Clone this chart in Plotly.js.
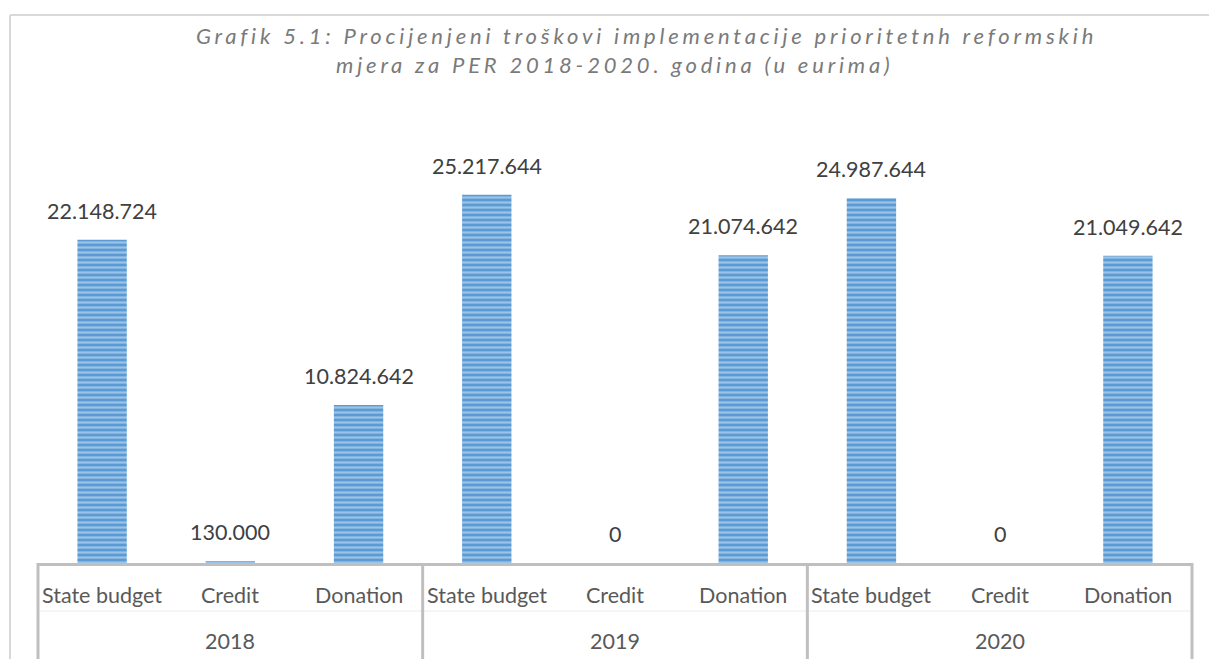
<!DOCTYPE html>
<html>
<head>
<meta charset="utf-8">
<script src="https://cdn.plot.ly/plotly-3.0.1.min.js"></script>
<style>
html,body{margin:0;padding:0;background:#fff;}
#chart{width:1209px;height:659px;}
.annotation[data-index="0"] text, .annotation[data-index="1"] text{letter-spacing:3.8px;}
</style>
</head>
<body>
<div id="chart"></div>
<script>
const years = ["2018","2018","2018","2019","2019","2019","2020","2020","2020"];
const sources = ["State budget","Credit","Donation","State budget","Credit","Donation","State budget","Credit","Donation"];
const values = [22148724, 130000, 10824642, 25217644, 0, 21074642, 24987644, 0, 21049642];
const titleLines = ["Grafik 5.1: Procijenjeni troškovi implementacije prioritetnh reformskih", "mjera za PER 2018-2020. godina (u eurima)"];

const FONT = "Lato, 'Open Sans', sans-serif";
const PH = 438, PW = 1154;

function fmt(v){
  return String(v).replace(/\B(?=(\d{3})+(?!\d))/g, ".");
}

const trace = {
  type: "bar",
  x: [years, sources],
  y: values,
  width: 0.385,
  marker: {
    color: "#5b9bd5",
    line: {width: 0},
    pattern: {shape: "-", size: 5, solidity: 0.45, fillmode: "overlay", bgcolor: "#5b9bd5", fgcolor: "#ddebf7"}
  },
  hoverinfo: "skip"
};

const annotations = [];
// title (two lines)
annotations.push({xref: "paper", yref: "paper", x: (646 - 38) / PW, y: 1 + (125 - 35) / PH,
  xanchor: "center", yanchor: "middle", showarrow: false, text: titleLines[0],
  font: {family: FONT, size: 22, color: "#7a7a7a", style: "italic"}});
annotations.push({xref: "paper", yref: "paper", x: (615 - 38) / PW, y: 1 + (125 - 65) / PH,
  xanchor: "center", yanchor: "middle", showarrow: false, text: titleLines[1],
  font: {family: FONT, size: 22, color: "#7a7a7a", style: "italic"}});

// value labels
values.forEach((v, i) => annotations.push({
  x: i, y: v, xref: "x", yref: "y",
  text: fmt(v), showarrow: false,
  yanchor: "bottom", yshift: 14,
  font: {family: FONT, size: 21.5, color: "#404040"}
}));

// category labels (row 1)
sources.forEach((s, i) => annotations.push({
  x: i, y: -32 / PH, xref: "x", yref: "paper", text: s, showarrow: false,
  xanchor: "center", yanchor: "middle",
  font: {family: FONT, size: 21.5, color: "#595959"}
}));

// year labels (row 2), centred on each group
const uniqYears = [...new Set(years)];
uniqYears.forEach(yr => {
  const idx = years.map((y, i) => y === yr ? i : -1).filter(i => i >= 0);
  const mid = (idx[0] + idx[idx.length - 1]) / 2;
  annotations.push({
    x: mid, y: -78 / PH, xref: "x", yref: "paper", text: yr, showarrow: false,
    xanchor: "center", yanchor: "middle",
    font: {family: FONT, size: 21.5, color: "#595959"}
  });
});

const shapes = [
  // outer frame (top and left)
  {type: "line", xref: "paper", yref: "paper", x0: -28 / PW, x1: 1.1, y0: 1 + 110 / PH, y1: 1 + 110 / PH, line: {color: "#d9d9d9", width: 2}},
  {type: "line", xref: "paper", yref: "paper", x0: -28 / PW, x1: -28 / PW, y0: 1 + 110 / PH, y1: -0.3, line: {color: "#d9d9d9", width: 2}},
  // faint separator between label rows
  {type: "line", xref: "paper", yref: "paper", x0: 0, x1: 1, y0: -48 / PH, y1: -48 / PH, line: {color: "#ececec", width: 1}}
];
// group dividers
const nG = uniqYears.length;
for (let g = 0; g <= nG; g++) {
  shapes.push({type: "line", xref: "paper", yref: "paper", x0: g / nG, x1: g / nG, y0: 0, y1: -0.25,
    line: {color: "#bfbfbf", width: 3}});
}

const layout = {
  width: 1209, height: 659,
  margin: {l: 38, r: 17, t: 125, b: 96},
  paper_bgcolor: "#ffffff",
  plot_bgcolor: "#ffffff",
  showlegend: false,
  xaxis: {
    type: "multicategory",
    showline: true, linecolor: "#bfbfbf", linewidth: 3,
    showdividers: false, showticklabels: false,
    ticks: "", showgrid: false, zeroline: false
  },
  yaxis: {
    range: [0, 30000000],
    visible: false, showgrid: false, zeroline: false
  },
  annotations: annotations,
  shapes: shapes
};

Plotly.newPlot("chart", [trace], layout, {displayModeBar: false, staticPlot: true});
</script>
</body>
</html>
